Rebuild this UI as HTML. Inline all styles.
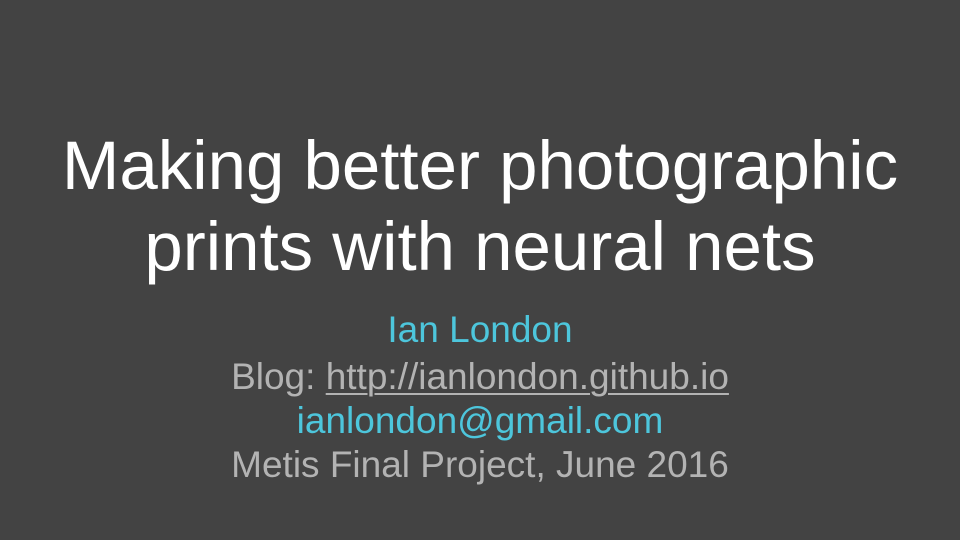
<!DOCTYPE html>
<html><head><meta charset="utf-8"><style>
html,body{margin:0;padding:0}
body{width:960px;height:540px;background:#434343;position:relative;overflow:hidden;font-family:"Liberation Sans",Arial,sans-serif}
.l{position:absolute;left:0;width:960px;text-align:center;line-height:1;white-space:nowrap}
.t{font-size:69px;color:#fff}
.s{font-size:37px}
.c{color:#4dc6dc}.g{color:#b3b3b3}
a{color:#b3b3b3;text-decoration:underline;text-decoration-thickness:2px;text-underline-offset:4px}
</style></head><body>
<div class="l t" style="top:131px">Making better photographic</div>
<div class="l t" style="top:212px">prints with neural nets</div>
<div class="l s c" style="top:311px">Ian London</div>
<div class="l s g" style="top:358px">Blog: <a>http://ianlondon.github.io</a></div>
<div class="l s c" style="top:402px">ianlondon@gmail.com</div>
<div class="l s g" style="top:446px">Metis Final Project, June 2016</div>
</body></html>
